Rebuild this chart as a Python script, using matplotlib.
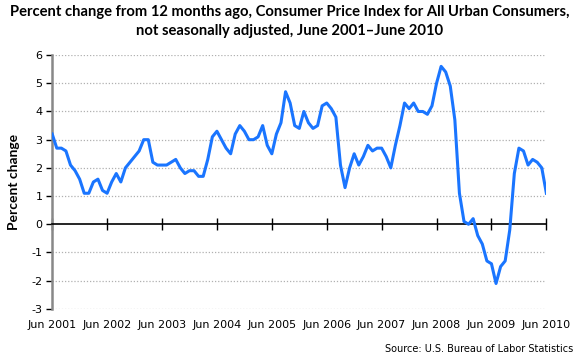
#!/usr/bin/env python3

import numpy as np
import matplotlib.pyplot as plt

plt.rcParams.update({'font.family': 'Lato', 'font.size': 9})

# 12-month percent change, CPI-U, June 2001 - June 2010
cpi = [3.2, 2.7, 2.7, 2.6, 2.1, 1.9, 1.6,
       1.1, 1.1, 1.5, 1.6, 1.2, 1.1, 1.5, 1.8, 1.5, 2.0, 2.2, 2.4,
       2.6, 3.0, 3.0, 2.2, 2.1, 2.1, 2.1, 2.2, 2.3, 2.0, 1.8, 1.9,
       1.9, 1.7, 1.7, 2.3, 3.1, 3.3, 3.0, 2.7, 2.5, 3.2, 3.5, 3.3,
       3.0, 3.0, 3.1, 3.5, 2.8, 2.5, 3.2, 3.6, 4.7, 4.3, 3.5, 3.4,
       4.0, 3.6, 3.4, 3.5, 4.2, 4.3, 4.1, 3.8, 2.1, 1.3, 2.0, 2.5,
       2.1, 2.4, 2.8, 2.6, 2.7, 2.7, 2.4, 2.0, 2.8, 3.5, 4.3, 4.1,
       4.3, 4.0, 4.0, 3.9, 4.2, 5.0, 5.6, 5.4, 4.9, 3.7, 1.1, 0.1,
       0.0, 0.2, -0.4, -0.7, -1.3, -1.4, -2.1, -1.5, -1.3, -0.2, 1.8, 2.7,
       2.6, 2.1, 2.3, 2.2, 2.0, 1.1]
xlabels = ['Jun %d' % y for y in range(2001, 2011)]
yticks = [-3, -2, -1, 0, 1, 2, 3, 4, 5, 6]

title = ('Percent change from 12 months ago, Consumer Price Index for All Urban Consumers,\n'
         'not seasonally adjusted, June 2001\u2013June 2010')

fig = plt.figure(figsize=(5.8, 3.6), dpi=100)
ax = fig.add_axes([0.09, 0.142, 0.852, 0.705])

months = np.arange(len(cpi))
ax.plot(months, cpi, color='#1a75ff', linewidth=2.2, zorder=3)

ax.set_xlim(0, len(cpi) - 1)
ax.set_ylim(-3, 6)
ax.set_yticks(yticks)
ax.set_yticklabels([str(v) for v in yticks], fontfamily='DejaVu Sans', fontsize=8)
for v in yticks:
    if v != 0:
        ax.axhline(v, color='#b0b0b0', linestyle=(0, (1, 1.5)), linewidth=0.9, zorder=1)

ax.spines['top'].set_visible(False)
ax.spines['right'].set_visible(False)
ax.spines['left'].set_color('#888888')
ax.spines['left'].set_linewidth(1.8)
ax.spines['bottom'].set_position(('data', 0))
ax.spines['bottom'].set_linewidth(1.2)
ax.tick_params(axis='y', length=4, width=1, color='black', pad=3)

xt = months[::12]
ax.set_xticks(xt)
ax.tick_params(axis='x', direction='inout', length=8, width=1, labelbottom=False)
for x, lab in zip(xt, xlabels):
    ax.text(x, -0.045, lab, transform=ax.get_xaxis_transform(),
            ha='center', va='top', fontfamily='DejaVu Sans', fontsize=8)

ax.set_ylabel('Percent change', fontweight='bold', fontsize=10, labelpad=8)
fig.suptitle(title, fontweight='bold', fontsize=10.6, y=0.985, linespacing=1.45)
fig.text(0.988, 0.018, 'Source: U.S. Bureau of Labor Statistics',
         ha='right', va='bottom', fontfamily='DejaVu Sans', fontsize=7)

plt.savefig('out.png', dpi=100)
plt.close()
